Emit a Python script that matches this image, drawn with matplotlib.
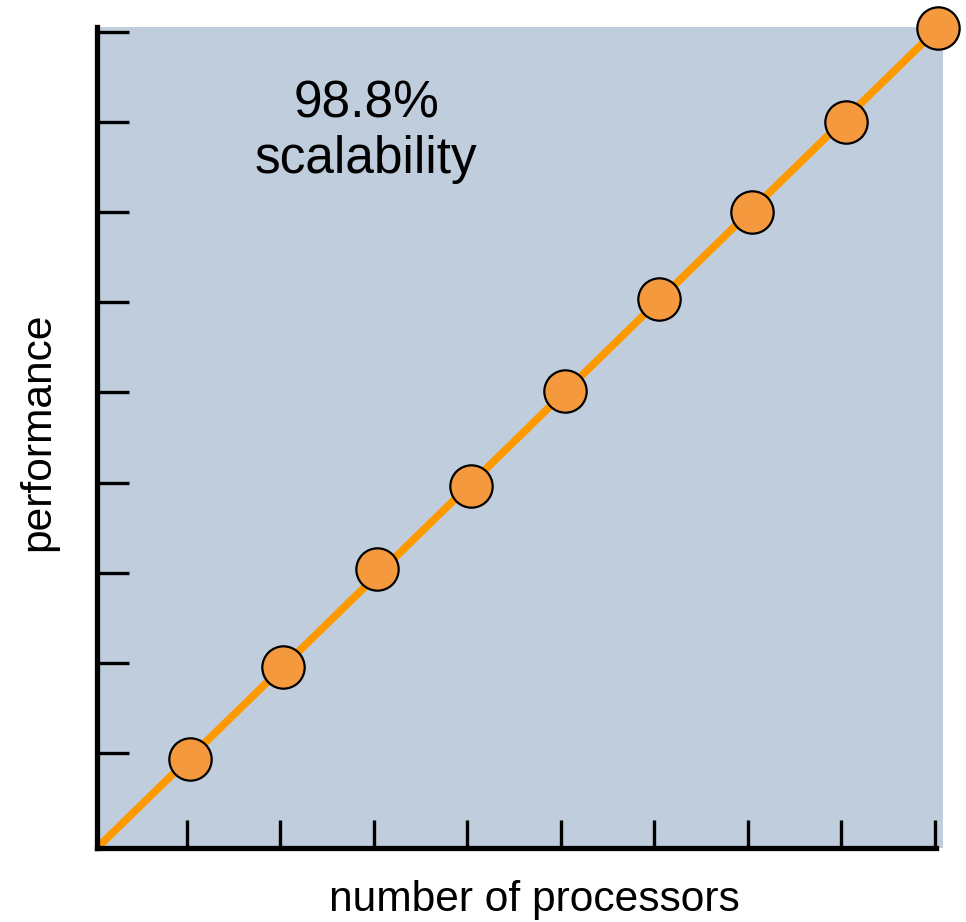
import matplotlib.pyplot as plt

# processors vs performance
processors = [1.03, 2.03, 3.04, 4.04, 5.05, 6.05, 7.05, 8.05, 9.04]
performance = [0.94, 1.96, 3.04, 3.96, 5.01, 6.04, 7.0, 8.0, 9.04]
x_ticks = [1, 2, 3, 4, 5, 6, 7, 8, 9]
y_ticks = [1, 2, 3, 4, 5, 6, 7, 8, 9]

plt.rcParams['font.family'] = ['Liberation Sans', 'DejaVu Sans']

fig = plt.figure(figsize=(9.66, 9.22), dpi=100)
ax = fig.add_axes([97 / 966, (922 - 848) / 922, (943 - 97) / 966, (848 - 27) / 922])
ax.set_facecolor('#c0cddd')

xlim = (0.04, 9.09)
ylim = (-0.05, 9.05)

# fit line from the axes corner through the last point
ax.plot([xlim[0], processors[-1]], [ylim[0], performance[-1]], color='#ff9900',
        lw=5.5, solid_capstyle='butt', zorder=2)
ax.scatter(processors, performance, s=930, color='#f5993f', edgecolor='black',
           linewidth=1.6, zorder=3, clip_on=False)

ax.set_xlim(*xlim)
ax.set_ylim(*ylim)
ax.set_xticks(x_ticks)
ax.set_yticks(y_ticks)
ax.set_xticklabels([])
ax.set_yticklabels([])
ax.tick_params(axis='x', direction='in', length=20, width=2.4, color='black')
ax.tick_params(axis='y', direction='in', length=23, width=2.4, color='black')

for side in ['top', 'right']:
    ax.spines[side].set_visible(False)
for side in ['left', 'bottom']:
    ax.spines[side].set_linewidth(3.8)
    ax.spines[side].set_color('black')
ax.spines['bottom'].set_bounds(xlim[0], 9.02)

ax.text(2.92, 7.89, '98.8%\nscalability', fontsize=37, ha='center', va='center',
        linespacing=1.15)

fig.text(534 / 966, 1 - 900 / 922, 'number of processors', fontsize=30.6,
         ha='center', va='center')
fig.text(38 / 966, 1 - 432 / 922, 'performance', fontsize=30.6, rotation=90,
         ha='center', va='center')

fig.savefig('out.png', dpi=100)
